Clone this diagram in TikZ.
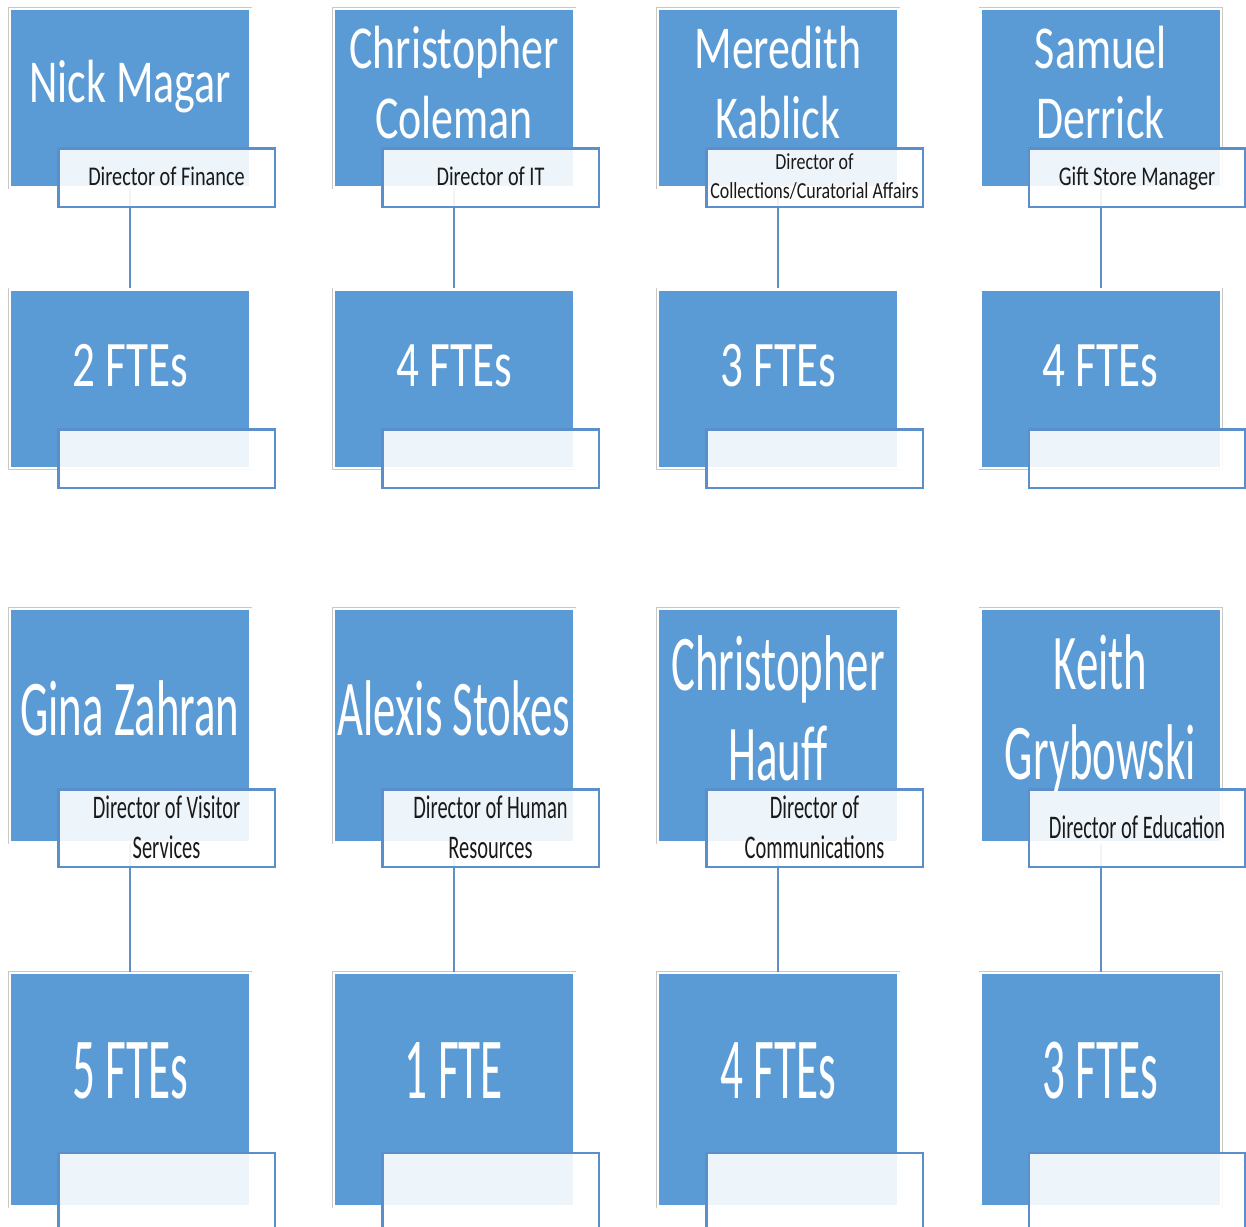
\documentclass[tikz,border=0pt]{standalone}
\usepackage{fontspec}
\setmainfont{Carlito}
% condensed faces; the lower row is drawn taller, so its faces are narrower
\newfontfamily\nameAfont{Carlito}[FakeStretch=0.72]
\newfontfamily\fteAfont{Carlito}[FakeStretch=0.695]
\newfontfamily\roleAfont{Carlito}[FakeStretch=0.75]
\newfontfamily\roleAsfont{Carlito}[FakeStretch=0.78]
\newfontfamily\nameBfont{Carlito}[FakeStretch=0.567]
\newfontfamily\fteBfont{Carlito}[FakeStretch=0.52]
\newfontfamily\roleBfont{Carlito}[FakeStretch=0.62]

\definecolor{boxblue}{HTML}{5B9BD5}
\definecolor{framegray}{HTML}{C8C8C8}
\definecolor{tagline}{HTML}{5B8FCB}
\definecolor{linkblue}{HTML}{5F8FC4}
\definecolor{tagtext}{HTML}{1A1A1A}

\tikzset{
  card/.style={preaction={draw=framegray,line width=3.5pt},
    draw=white, line width=2.5pt, fill=boxblue, inner sep=0pt,
    minimum width=240.5pt},
  cardA/.style={card, minimum height=178.5pt},
  cardB/.style={card, minimum height=233.5pt},
  tag/.style={draw=tagline, line width=2.5pt, fill=white,
    fill opacity=0.9, text opacity=1, inner sep=0pt, minimum width=216.5pt},
  tagA/.style={tag, minimum height=58.5pt},
  tagB/.style={tag, minimum height=77.5pt},
  link/.style={draw=linkblue, line width=2pt},
  whitetxt/.style={text=white, align=center, inner sep=0pt, anchor=base},
  darktxt/.style={text=tagtext, align=center, inner sep=0pt, anchor=base},
  nameA/.style={whitetxt, font=\nameAfont\fontsize{61}{70}\selectfont},
  nameB/.style={whitetxt, font=\nameBfont\fontsize{79}{90}\selectfont},
  fteA/.style={whitetxt, font=\fteAfont\fontsize{65}{70}\selectfont},
  fteB/.style={whitetxt, font=\fteBfont\fontsize{87}{90}\selectfont},
  roleA/.style={darktxt, font=\roleAfont\fontsize{27}{30}\selectfont},
  roleAsmall/.style={darktxt, font=\roleAsfont\fontsize{23}{29}\selectfont},
  roleB/.style={darktxt, font=\roleBfont\fontsize{33}{40}\selectfont},
}

\begin{document}
\begin{tikzpicture}[x=1pt, y=-1pt]
\useasboundingbox (0,0) rectangle (1246,1226);

% ---- upper row: people and staff counts ----
\node[cardA] (p1) at (130,98) {};
\node[cardA] (p2) at (454,98) {};
\node[cardA] (p3) at (778,98) {};
\node[cardA] (p4) at (1100.5,98) {};
\node[cardA] (s1) at (130,378.5) {};
\node[cardA] (s2) at (454,378.5) {};
\node[cardA] (s3) at (778,378.5) {};
\node[cardA] (s4) at (1100.5,378.5) {};

% ---- lower row ----
\node[cardB] (p5) at (130,725.5) {};
\node[cardB] (p6) at (454,725.5) {};
\node[cardB] (p7) at (778,725.5) {};
\node[cardB] (p8) at (1100.5,725.5) {};
\node[cardB] (s5) at (130,1089.5) {};
\node[cardB] (s6) at (454,1089.5) {};
\node[cardB] (s7) at (778,1089.5) {};
\node[cardB] (s8) at (1100.5,1089.5) {};

% ---- reporting lines ----
\foreach \i in {1,...,8} \draw[link] (p\i.south) -- (s\i.north);

% ---- title tags ----
\node[tagA] (t1) at (166.5,177.5) {};
\node[tagA] (t2) at (490.5,177.5) {};
\node[tagA] (t3) at (814.5,177.5) {};
\node[tagA] (t4) at (1137,177.5) {};
\node[tagA] (u1) at (166.5,458.5) {};
\node[tagA] (u2) at (490.5,458.5) {};
\node[tagA] (u3) at (814.5,458.5) {};
\node[tagA] (u4) at (1137,458.5) {};
\node[tagB] (t5) at (166.5,828) {};
\node[tagB] (t6) at (490.5,828) {};
\node[tagB] (t7) at (814.5,828) {};
\node[tagB] (t8) at (1137,828) {};
\node[tagB] (u5) at (166.5,1191.5) {};
\node[tagB] (u6) at (490.5,1191.5) {};
\node[tagB] (u7) at (814.5,1191.5) {};
\node[tagB] (u8) at (1137,1191.5) {};

% ---- names (base anchor sits on the last line) ----
\node[nameA] (n1) at (130,102) {Nick Magar};
\node[nameA] (n2) at (454,138) {Christopher\\Coleman};
\node[nameA] (n3) at (778,138) {Meredith\\Kablick};
\node[nameA] (n4) at (1100.5,138) {Samuel\\Derrick};
\node[nameB] (n5) at (130,735) {Gina Zahran};
\node[nameB] (n6) at (454,735) {Alexis Stokes};
\node[nameB] (n7) at (778,780) {Christopher\\Hauff};
\node[nameB] (n8) at (1100.5,779) {Keith\\Grybowski};

% ---- titles ----
\node[roleA] (r1) at (166.5,185) {Director of Finance};
\node[roleA] (r2) at (490.5,185) {Director of IT};
\node[roleAsmall] (r3) at (814.5,198) {Director of\\Collections/Curatorial Affairs};
\node[roleA] (r4) at (1137,185) {Gift Store Manager};
\node[roleB] (r5) at (166.5,858) {Director of Visitor\\Services};
\node[roleB] (r6) at (490.5,858) {Director of Human\\Resources};
\node[roleB] (r7) at (814.5,858) {Director of\\Communications};
\node[roleB] (r8) at (1137,838) {Director of Education};

% ---- staff counts ----
\node[fteA] (f1) at (130,386) {2 FTEs};
\node[fteA] (f2) at (454,386) {4 FTEs};
\node[fteA] (f3) at (778,386) {3 FTEs};
\node[fteA] (f4) at (1100.5,386) {4 FTEs};
\node[fteB] (f5) at (130,1098) {5 FTEs};
\node[fteB] (f6) at (454,1098) {1 FTE};
\node[fteB] (f7) at (778,1098) {4 FTEs};
\node[fteB] (f8) at (1100.5,1098) {3 FTEs};
\end{tikzpicture}
\end{document}
